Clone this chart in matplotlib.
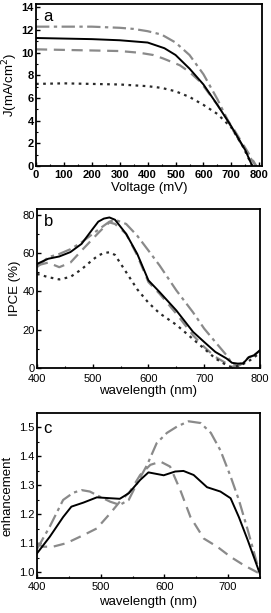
import matplotlib
matplotlib.use("Agg")
import matplotlib.pyplot as plt
from matplotlib.ticker import MultipleLocator

plt.rcParams['font.family'] = ['Liberation Sans', 'DejaVu Sans']

# --- panel a: J-V curves ---
v_solid = [0, 100, 200, 300, 350, 400, 460, 500, 550, 600, 650, 700, 750, 775]
j_solid = [11.3, 11.25, 11.2, 11.1, 11.0, 10.9, 10.4, 9.8, 8.6, 7.2, 5.4, 3.5, 1.4, 0]
v_dashdot = [0, 100, 200, 300, 350, 400, 450, 500, 550, 600, 650, 700, 750, 788]
j_dashdot = [12.3, 12.3, 12.3, 12.2, 12.1, 11.9, 11.6, 10.9, 9.8, 8.1, 5.9, 3.4, 1.4, 0]
v_dashed = [0, 100, 200, 300, 370, 420, 455, 515, 550, 590, 650, 710, 750, 790]
j_dashed = [10.3, 10.25, 10.2, 10.15, 10.0, 9.8, 9.5, 8.9, 8.3, 7.4, 5.4, 3.2, 1.6, 0]
v_dotted = [0, 100, 200, 300, 400, 450, 500, 550, 600, 650, 700, 740, 775]
j_dotted = [7.25, 7.3, 7.25, 7.2, 7.05, 6.9, 6.6, 6.1, 5.4, 4.6, 3.4, 1.8, 0]

# --- panel b: IPCE ---
wl_b = [400, 420, 440, 460, 480, 500, 510, 520, 530, 540, 560, 580, 600, 620, 650,
        680, 700, 720, 740, 750, 760, 770, 780, 790, 800]
ipce_solid = [54.3, 57, 58.2, 60.5, 64.8, 72.6, 76.4, 78, 78.6, 77.4, 70, 59.5, 45.7,
              39.6, 30, 18.8, 13.5, 8.3, 4.9, 2.6, 2.2, 2.3, 5.5, 6.6, 9.2]
ipce_dashdot = [52.6, 57.8, 59.5, 62, 65.6, 70, 72.2, 74.3, 76.4, 77.4, 75.2, 69, 61.3,
                53.5, 40.5, 29, 20.5, 13.5, 6.6, 2.3, 0.8, 2.5, 5.5, 6.8, 8.8]
ipce_dashed = [53.5, 55, 52.6, 55, 61.3, 67.4, 70.5, 73.4, 76, 75.2, 70, 58.7, 44.8,
               38.7, 28.3, 17, 10.9, 5.7, 2.3, 0.5, 1.2, 3, 5.5, 6.5, 8.5]
ipce_dotted = [49.1, 47.4, 46.2, 47.5, 51.5, 56.5, 58.7, 60, 60.4, 59, 50, 41, 34,
               28.5, 22.5, 15, 10, 4.9, 1.4, 0.3, 1, 2, 3.5, 5.5, 8]

# --- panel c: enhancement ---
wl_solid_c = [400, 420, 441, 454, 473, 494, 515, 530, 544, 562, 575, 599, 617, 630,
              646, 667, 688, 704, 717, 731, 750]
enh_solid = [1.065, 1.122, 1.19, 1.226, 1.24, 1.258, 1.255, 1.253, 1.272, 1.318, 1.344,
             1.334, 1.347, 1.349, 1.335, 1.293, 1.278, 1.255, 1.19, 1.11, 0.995]
wl_dashdot_c = [400, 420, 441, 457, 470, 483, 499, 515, 530, 544, 557, 573, 588, 604,
                620, 638, 657, 673, 688, 704, 717, 731, 750]
enh_dashdot = [1.08, 1.157, 1.249, 1.274, 1.283, 1.278, 1.26, 1.243, 1.232, 1.249,
               1.306, 1.37, 1.445, 1.48, 1.502, 1.52, 1.514, 1.48, 1.42, 1.33, 1.249,
               1.145, 0.995]
wl_dashed_c = [400, 409, 425, 446, 473, 494, 515, 530, 546, 562, 578, 594, 609, 625,
               641, 662, 683, 704, 725, 750]
enh_dashed = [1.1, 1.088, 1.088, 1.1, 1.128, 1.151, 1.203, 1.243, 1.278, 1.335, 1.37,
              1.381, 1.364, 1.283, 1.19, 1.116, 1.088, 1.053, 1.024, 0.995]

GRAY = '#8a8a8a'
DARK = '#2a2a2a'
TICK_FS = 8
LABEL_FS = 9.5

fig = plt.figure(figsize=(2.71, 6.13), dpi=100)
ax_a = fig.add_axes([0.133, 0.729, 0.834, 0.2645])
ax_b = fig.add_axes([0.1365, 0.400, 0.8225, 0.259])
ax_c = fig.add_axes([0.1365, 0.057, 0.8225, 0.269])


def style(ax, xmaj, xmin, ymaj, ymin):
    ax.xaxis.set_major_locator(MultipleLocator(xmaj))
    ax.xaxis.set_minor_locator(MultipleLocator(xmin))
    ax.yaxis.set_major_locator(MultipleLocator(ymaj))
    ax.yaxis.set_minor_locator(MultipleLocator(ymin))
    ax.tick_params(which='both', direction='in', labelsize=TICK_FS, pad=1.5)
    ax.tick_params(which='major', length=3, width=1)
    ax.tick_params(which='minor', length=1.5, width=0.8)
    for s in ax.spines.values():
        s.set_linewidth(1.3)


# panel a
ax_a.plot(v_dashdot, j_dashdot, color=GRAY, lw=1.6, linestyle=(0, (6, 2, 1.5, 2)))
ax_a.plot(v_dashed, j_dashed, color=GRAY, lw=1.6, linestyle=(0, (5, 3)))
ax_a.plot(v_dotted, j_dotted, color=DARK, lw=1.6, linestyle=(0, (1.2, 2)))
ax_a.plot(v_solid, j_solid, color='black', lw=1.4)
ax_a.set_xlim(0, 810)
ax_a.set_ylim(0, 14.3)
style(ax_a, 100, 50, 2, 1)
ax_a.tick_params(axis='x', pad=2.5)
ax_a.set_xlabel('Voltage (mV)', fontsize=LABEL_FS, labelpad=2)
ax_a.set_ylabel('J(mA/cm$^2$)', fontsize=LABEL_FS, labelpad=1)
for lab in ax_a.get_xticklabels() + ax_a.get_yticklabels():
    lab.set_fontweight('bold')
ax_a.text(0.03, 0.97, 'a', transform=ax_a.transAxes, fontsize=12, va='top', ha='left')

# panel b
ax_b.plot(wl_b, ipce_dashdot, color=GRAY, lw=1.6, linestyle=(0, (6, 2, 1.5, 2)))
ax_b.plot(wl_b, ipce_dashed, color=GRAY, lw=1.6, linestyle=(0, (5, 3)))
ax_b.plot(wl_b, ipce_dotted, color=DARK, lw=1.6, linestyle=(0, (1.2, 2)))
ax_b.plot(wl_b, ipce_solid, color='black', lw=1.4)
ax_b.set_xlim(400, 800)
ax_b.set_ylim(0, 83)
style(ax_b, 100, 50, 20, 10)
ax_b.tick_params(axis='x', pad=4.5)
ax_b.set_xlabel('wavelength (nm)', fontsize=LABEL_FS, labelpad=1)
ax_b.set_ylabel('IPCE (%)', fontsize=LABEL_FS, labelpad=1)
ax_b.text(0.03, 0.97, 'b', transform=ax_b.transAxes, fontsize=12, va='top', ha='left')

# panel c
ax_c.plot(wl_dashdot_c, enh_dashdot, color=GRAY, lw=1.6, linestyle=(0, (6, 2, 1.5, 2)))
ax_c.plot(wl_dashed_c, enh_dashed, color=GRAY, lw=1.6, linestyle=(0, (5, 3)))
ax_c.plot(wl_solid_c, enh_solid, color='black', lw=1.4)
ax_c.set_xlim(400, 750)
ax_c.set_ylim(0.98, 1.548)
style(ax_c, 100, 50, 0.1, 0.05)
ax_c.tick_params(axis='x', pad=3)
ax_c.set_xlabel('wavelength (nm)', fontsize=LABEL_FS, labelpad=3)
ax_c.set_ylabel('enhancement', fontsize=LABEL_FS, labelpad=4)
ax_c.text(0.03, 0.95, 'c', transform=ax_c.transAxes, fontsize=12, va='top', ha='left')

fig.savefig('out.png', dpi=100)
